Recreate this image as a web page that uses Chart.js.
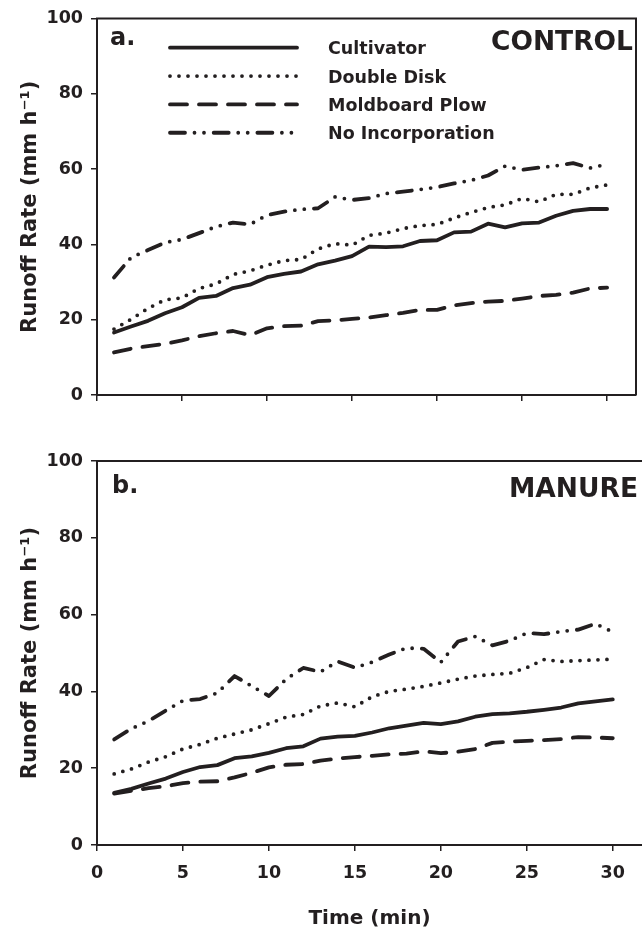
<!DOCTYPE html>
<html>
<head>
<meta charset="utf-8">
<script src="https://cdn.jsdelivr.net/npm/chart.js@4.4.1/dist/chart.umd.min.js"></script>
<style>
  body { margin: 0; background: #fff; }
  #wrapA { position: absolute; left: 0; top: 0; width: 642px; height: 420px; }
  #wrapB { position: absolute; left: 0; top: 440px; width: 642px; height: 492px; }
</style>
</head>
<body>
<div id="wrapA"><canvas id="chartA" width="642" height="420"></canvas></div>
<div id="wrapB"><canvas id="chartB" width="642" height="492"></canvas></div>
<script>
// time steps (min)
const minutes = [1, 2, 3, 4, 5, 6, 7, 8, 9, 10, 11, 12, 13, 14, 15, 16, 17, 18, 19, 20, 21, 22, 23, 24, 25, 26, 27, 28, 29, 30];
const seriesNames = ['Cultivator', 'Double Disk', 'Moldboard Plow', 'No Incorporation'];

// panel a. CONTROL
const controlCultivator = [16.6, 18.2, 19.7, 21.7, 23.3, 25.8, 26.3, 28.4, 29.3, 31.3, 32.2, 32.8, 34.7, 35.7, 36.9, 39.4, 39.3, 39.5, 40.9, 41.1, 43.2, 43.4, 45.5, 44.5, 45.6, 45.8, 47.6, 48.9, 49.4, 49.4];
const controlDoubleDisk = [17.5, 20.1, 23.0, 25.3, 25.8, 28.3, 29.5, 32.0, 33.0, 34.5, 35.7, 36.0, 38.8, 40.2, 39.8, 42.4, 43.0, 44.2, 45.0, 45.3, 47.0, 48.5, 49.8, 50.5, 52.2, 51.3, 53.3, 53.3, 55.0, 55.8];
const controlMoldboard = [11.3, 12.3, 13.0, 13.6, 14.5, 15.6, 16.4, 17.0, 15.9, 17.7, 18.3, 18.4, 19.6, 19.8, 20.2, 20.6, 21.2, 21.8, 22.6, 22.6, 23.8, 24.4, 24.8, 25.0, 25.6, 26.3, 26.6, 27.2, 28.3, 28.5];
const controlNoIncorp = [31.2, 36.5, 38.5, 40.5, 41.3, 43.0, 44.7, 45.8, 45.3, 47.8, 48.7, 49.3, 49.6, 52.6, 51.8, 52.3, 53.5, 54.0, 54.6, 55.2, 56.2, 57.0, 58.3, 60.8, 59.8, 60.4, 60.9, 61.6, 60.3, 61.3];

// panel b. MANURE
const manureCultivator = [13.6, 14.6, 16.0, 17.3, 19.0, 20.3, 20.8, 22.6, 23.1, 24.0, 25.2, 25.7, 27.7, 28.2, 28.4, 29.3, 30.4, 31.1, 31.8, 31.5, 32.2, 33.4, 34.1, 34.3, 34.7, 35.2, 35.8, 36.9, 37.4, 37.9];
const manureDoubleDisk = [18.5, 19.8, 21.6, 23.0, 25.0, 26.2, 27.8, 28.9, 30.0, 31.6, 33.3, 34.0, 36.2, 37.0, 36.0, 38.6, 40.0, 40.6, 41.3, 42.2, 43.2, 44.0, 44.4, 44.7, 46.2, 48.3, 47.8, 48.0, 48.2, 48.4];
const manureMoldboard = [13.4, 14.1, 14.8, 15.3, 16.1, 16.5, 16.6, 17.6, 18.8, 20.2, 20.9, 21.1, 22.0, 22.5, 22.9, 23.2, 23.6, 23.8, 24.4, 23.9, 24.3, 25.0, 26.6, 26.9, 27.1, 27.3, 27.6, 28.1, 28.0, 27.8];
const manureNoIncorp = [27.5, 30.3, 32.3, 35.0, 37.6, 38.0, 39.6, 44.0, 41.4, 38.8, 43.2, 46.1, 45.1, 47.8, 46.2, 47.6, 49.6, 51.3, 51.1, 47.6, 53.0, 54.3, 52.0, 53.2, 55.2, 54.9, 55.6, 56.1, 57.6, 55.5];

const xTicks = [0, 5, 10, 15, 20, 25, 30];
const yTicks = [0, 20, 40, 60, 80, 100];

const ink = '#231f20';
const fam = '"DejaVu Sans", sans-serif';
const dashes = [[], [0, 9], [17, 12], [15, 9.5, 0, 9.5, 0, 9.7]];

function makeDatasets(seriesList) {
  return seriesList.map((vals, i) => ({
    label: seriesNames[i],
    data: vals.map((v, j) => ({ x: minutes[j], y: v })),
    borderColor: ink,
    borderWidth: 3.8,
    borderDash: dashes[i],
    borderCapStyle: 'round',
    borderJoinStyle: 'round',
    pointRadius: 0,
    tension: 0,
    fill: false
  }));
}

// frame, panel letter, panel name and legend
const panelPlugin = {
  id: 'panel',
  afterDraw(chart, args, opts) {
    const { ctx, chartArea: a } = chart;
    ctx.save();
    ctx.strokeStyle = ink;
    ctx.lineWidth = 2;
    ctx.beginPath();
    ctx.moveTo(a.left - 1, a.top);
    ctx.lineTo(a.right, a.top);
    if (opts.rightBorder) ctx.lineTo(a.right, a.bottom);
    ctx.stroke();

    ctx.fillStyle = ink;
    ctx.textBaseline = 'alphabetic';
    ctx.textAlign = 'left';
    ctx.font = 'bold 24px ' + fam;
    ctx.fillText(opts.letter, opts.letterX, opts.letterY);
    ctx.textAlign = 'right';
    ctx.font = 'bold 26.5px ' + fam;
    ctx.fillText(opts.name, opts.nameX, opts.nameY);

    if (opts.legend) {
      chart.data.datasets.forEach((ds, i) => {
        const y = 47.7 + i * 28.35;
        ctx.setLineDash(ds.borderDash);
        ctx.lineCap = 'round';
        ctx.lineWidth = ds.borderWidth;
        ctx.beginPath();
        ctx.moveTo(170, y);
        ctx.lineTo(297, y);
        ctx.stroke();
        ctx.setLineDash([]);
        ctx.textAlign = 'left';
        ctx.font = 'bold 17.5px ' + fam;
        ctx.fillText(ds.label, 328, y + 6.6);
      });
    }
    ctx.restore();
  }
};

function makeScales(showX, xHeight) {
  return {
    x: {
      type: 'linear',
      min: 0,
      max: 31.7,
      afterBuildTicks: s => { s.ticks = xTicks.map(v => ({ value: v })); },
      afterFit: s => { s.height = xHeight; },
      border: { display: true, color: ink, width: 2 },
      grid: { drawOnChartArea: false, drawTicks: true, tickLength: 6, color: ink, lineWidth: 1.5 },
      ticks: {
        display: showX, color: ink, padding: 12, maxRotation: 0, stepSize: 5, includeBounds: false,
        callback: v => xTicks.includes(v) ? String(v) : '',
        font: { family: fam, size: 17.5, weight: 'bold' }
      },
      title: { display: showX, text: 'Time (min)', color: ink, padding: { top: 0, bottom: 1 }, font: { family: fam, size: 20, weight: 'bold' } }
    },
    y: {
      min: 0,
      max: 100,
      afterBuildTicks: s => { s.ticks = yTicks.map(v => ({ value: v })); },
      afterFit: s => { s.width = 97; },
      border: { display: true, color: ink, width: 2 },
      grid: { drawOnChartArea: false, drawTicks: true, tickLength: 6, color: ink, lineWidth: 1.5 },
      ticks: { color: ink, padding: 8, stepSize: 20, font: { family: fam, size: 17.5, weight: 'bold' } },
      title: { display: true, text: 'Runoff Rate (mm h\u207B\u00B9)', color: ink, padding: { top: 18, bottom: 0 }, font: { family: fam, size: 21, weight: 'bold' } }
    }
  };
}

new Chart(document.getElementById('chartA'), {
  type: 'line',
  data: { datasets: makeDatasets([controlCultivator, controlDoubleDisk, controlMoldboard, controlNoIncorp]) },
  options: {
    responsive: false,
    animation: false,
    layout: { padding: { top: 14, right: 6, left: 0, bottom: 0 } },
    scales: makeScales(false, 25),
    plugins: {
      legend: { display: false },
      tooltip: { enabled: false },
      panel: { rightBorder: true, legend: true, letter: 'a.', letterX: 110, letterY: 45, name: 'CONTROL', nameX: 633, nameY: 50 }
    }
  },
  plugins: [panelPlugin]
});

new Chart(document.getElementById('chartB'), {
  type: 'line',
  data: { datasets: makeDatasets([manureCultivator, manureDoubleDisk, manureMoldboard, manureNoIncorp]) },
  options: {
    responsive: false,
    animation: false,
    layout: { padding: { top: 21, right: 0, left: 0, bottom: 0 } },
    scales: makeScales(true, 87),
    plugins: {
      legend: { display: false },
      tooltip: { enabled: false },
      panel: { rightBorder: false, legend: false, letter: 'b.', letterX: 112, letterY: 53, name: 'MANURE', nameX: 638, nameY: 57 }
    }
  },
  plugins: [panelPlugin]
});
</script>
</body>
</html>
